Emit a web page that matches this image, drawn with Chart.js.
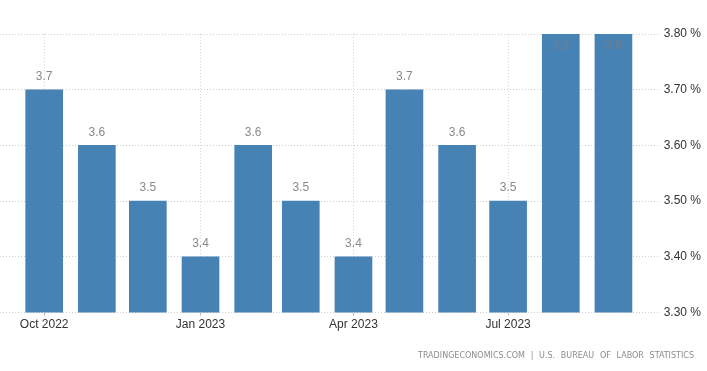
<!DOCTYPE html>
<html>
<head>
<meta charset="utf-8">
<script src="https://cdn.jsdelivr.net/npm/chart.js@4"></script>
<style>
html,body{margin:0;padding:0;background:#fff;}
#wrap{width:707px;height:371px;position:relative;}
</style>
</head>
<body>
<div id="wrap"><canvas id="c" width="707" height="371"></canvas></div>
<script>
// ---- data ----
const months = ['2022-10','2022-11','2022-12','2023-01','2023-02','2023-03','2023-04','2023-05','2023-06','2023-07','2023-08','2023-09'];
const values = [3.7, 3.6, 3.5, 3.4, 3.6, 3.5, 3.4, 3.7, 3.6, 3.5, 3.8, 3.8];
const xTickMonths = ['2022-10','2023-01','2023-04','2023-07'];
const xTickLabels = ['Oct 2022','Jan 2023','Apr 2023','Jul 2023'];
const yTicks = [3.3, 3.4, 3.5, 3.6, 3.7, 3.8];
const sourceText = 'TRADINGECONOMICS.COM | U.S. BUREAU OF LABOR STATISTICS';

// ---- helpers ----
function dayNum(ym){ const [y,m] = ym.split('-').map(Number); return Date.UTC(y, m-1, 1)/86400000; }
const xs = months.map(dayNum);
const tickDays = xTickMonths.map(dayNum);

const labelPlugin = {
  id: 'valueLabels',
  afterDatasetsDraw(chart){
    const ctx = chart.ctx;
    const meta = chart.getDatasetMeta(0);
    const yMax = chart.scales.y.max;
    ctx.save();
    ctx.font = '12px "Liberation Sans", Arial, sans-serif';
    ctx.textAlign = 'center';
    meta.data.forEach((bar, i) => {
      const v = values[i];
      const txt = v.toFixed(1);
      if (v >= yMax - 1e-9) {
        ctx.fillStyle = '#6e7f90';
        ctx.textBaseline = 'top';
        ctx.fillText(txt, bar.x, bar.y + 6);
      } else {
        ctx.fillStyle = '#8a8a8a';
        ctx.textBaseline = 'bottom';
        ctx.fillText(txt, bar.x, bar.y - 7);
      }
    });
    ctx.restore();
  }
};

const sourcePlugin = {
  id: 'sourceText',
  afterDraw(chart){
    const ctx = chart.ctx;
    ctx.save();
    ctx.font = '8.5px "DejaVu Sans Condensed", "DejaVu Sans", sans-serif';
    ctx.fillStyle = '#8c8c8c';
    ctx.textBaseline = 'middle';
    try { ctx.wordSpacing = '3px'; } catch (e) {}
    const w = ctx.measureText(sourceText).width;
    const target = 276;
    ctx.translate(694 - target, 356);
    ctx.scale(target / w, 1);
    ctx.textAlign = 'left';
    ctx.fillText(sourceText, 0, 0);
    ctx.restore();
  }
};

new Chart(document.getElementById('c'), {
  type: 'bar',
  data: {
    datasets: [{
      data: xs.map((x, i) => ({x: x, y: values[i]})),
      backgroundColor: '#4682b4',
      borderWidth: 0,
      barThickness: 37
    }]
  },
  options: {
    responsive: false,
    animation: false,
    layout: { padding: { left: 0, top: 34, right: 0, bottom: 37 } },
    plugins: { legend: { display: false }, tooltip: { enabled: false } },
    scales: {
      x: {
        type: 'linear',
        min: xs[0] - 26,
        max: xs[xs.length - 1] + 26,
        offset: false,
        afterBuildTicks(axis){ axis.ticks = tickDays.map(v => ({value: v})); },
        ticks: {
          autoSkip: false,
          maxRotation: 0,
          padding: 2,
          color: '#333',
          font: { family: '"Liberation Sans", Arial, sans-serif', size: 12 },
          callback(value){ const i = tickDays.indexOf(value); return i >= 0 ? xTickLabels[i] : ''; }
        },
        grid: {
          offset: false,
          color: '#d8d8d8',
          tickColor: '#bbb',
          tickLength: 3,
          drawTicks: true
        },
        border: { display: false, dash: [1, 2] }
      },
      y: {
        position: 'right',
        min: 3.3,
        max: 3.8,
        afterBuildTicks(axis){ axis.ticks = yTicks.map(v => ({value: v})); },
        ticks: {
          padding: 6,
          color: '#333',
          font: { family: '"Liberation Sans", Arial, sans-serif', size: 12 },
          callback(value){ return value.toFixed(2) + ' %'; }
        },
        grid: { color: '#cfcfcf', drawTicks: false },
        border: { display: false, dash: [1, 2] }
      }
    }
  },
  plugins: [labelPlugin, sourcePlugin]
});
</script>
</body>
</html>
